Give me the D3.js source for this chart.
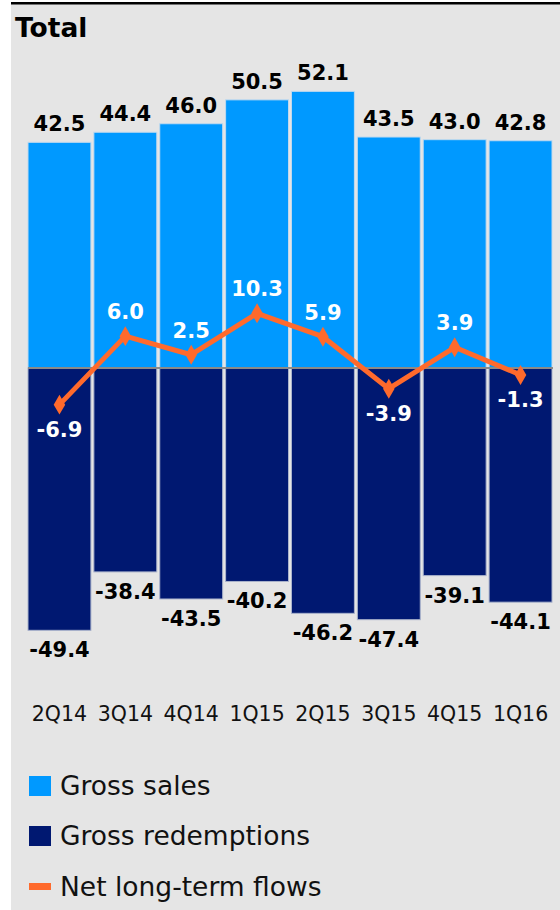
<!DOCTYPE html>
<html>
<head>
<meta charset="utf-8">
<script src="https://cdn.jsdelivr.net/npm/d3@7/dist/d3.min.js"></script>
<style>
  html, body { margin: 0; padding: 0; background: #ffffff; }
  svg { display: block; }
  text { font-family: "DejaVu Sans", Verdana, sans-serif; }
</style>
</head>
<body>
<div id="chart"></div>
<script>
// Quarterly fund flows (bn)
const quarters = ["2Q14", "3Q14", "4Q14", "1Q15", "2Q15", "3Q15", "4Q15", "1Q16"];
const grossSales = [42.5, 44.4, 46.0, 50.5, 52.1, 43.5, 43.0, 42.8];
const grossRedemptions = [-49.4, -38.4, -43.5, -40.2, -46.2, -47.4, -39.1, -44.1];
const netFlows = [-6.9, 6.0, 2.5, 10.3, 5.9, -3.9, 3.9, -1.3];
const legendItems = ["Gross sales", "Gross redemptions", "Net long-term flows"];

const W = 560, H = 910;
const colors = { sales: "#0099ff", redemptions: "#001871", net: "#ff6a2c" };

const svg = d3.select("#chart").append("svg")
  .attr("width", W).attr("height", H);

// panel background and top rule
svg.append("rect").attr("x", 11).attr("y", 3).attr("width", W - 11).attr("height", H - 3)
  .attr("fill", "#e5e5e5");
svg.append("rect").attr("x", 11).attr("y", 2).attr("width", W - 11).attr("height", 2.5)
  .attr("fill", "#000");

svg.append("text").attr("x", 15).attr("y", 37)
  .attr("font-size", 26.5).attr("font-weight", "bold").attr("fill", "#000")
  .text("Total");

const x = d3.scaleBand().domain(quarters).range([28, 552])
  .paddingInner(0.045).paddingOuter(0);
const y = d3.scaleLinear().domain([-50, 55]).range([368 + 50 * 5.31, 368 - 55 * 5.31]);

const cx = q => x(q) + x.bandwidth() / 2;

// sales bars
svg.append("g").selectAll("rect").data(quarters).join("rect")
  .attr("x", q => x(q)).attr("width", x.bandwidth())
  .attr("y", (q, i) => y(grossSales[i]))
  .attr("height", (q, i) => y(0) - y(grossSales[i]))
  .attr("fill", colors.sales)
  .attr("stroke", "#bfd9ee").attr("stroke-width", 1);

// redemption bars
svg.append("g").selectAll("rect").data(quarters).join("rect")
  .attr("x", q => x(q)).attr("width", x.bandwidth())
  .attr("y", y(0))
  .attr("height", (q, i) => y(grossRedemptions[i]) - y(0))
  .attr("fill", colors.redemptions)
  .attr("stroke", "#aab3cc").attr("stroke-width", 1);

// zero line
svg.append("line")
  .attr("x1", x.range()[0]).attr("x2", x.range()[1] + 1)
  .attr("y1", y(0)).attr("y2", y(0))
  .attr("stroke", "#8a8a8a").attr("stroke-width", 2);

// value labels
const bold = { size: 21, weight: "bold" };
svg.append("g").selectAll("text").data(quarters).join("text")
  .attr("x", cx).attr("y", (q, i) => y(grossSales[i]) - 11)
  .attr("text-anchor", "middle").attr("font-size", bold.size).attr("font-weight", bold.weight)
  .attr("fill", "#000")
  .text((q, i) => grossSales[i].toFixed(1));

svg.append("g").selectAll("text").data(quarters).join("text")
  .attr("x", cx).attr("y", (q, i) => y(grossRedemptions[i]) + 27)
  .attr("text-anchor", "middle").attr("font-size", bold.size).attr("font-weight", bold.weight)
  .attr("fill", "#000")
  .text((q, i) => grossRedemptions[i].toFixed(1));

// net flow line with diamond markers
const line = d3.line().x((d, i) => cx(quarters[i])).y(d => y(d));
svg.append("path").datum(netFlows)
  .attr("d", line).attr("fill", "none")
  .attr("stroke", colors.net).attr("stroke-width", 5).attr("stroke-linejoin", "round");

svg.append("g").selectAll("path").data(netFlows).join("path")
  .attr("transform", (d, i) => `translate(${cx(quarters[i])},${y(d)})`)
  .attr("d", d3.symbol().type(d3.symbolDiamond).size(115))
  .attr("fill", colors.net);

svg.append("g").selectAll("text").data(netFlows).join("text")
  .attr("x", (d, i) => cx(quarters[i]))
  .attr("y", d => d >= 0 ? y(d) - 17 : y(d) + 32)
  .attr("text-anchor", "middle").attr("font-size", bold.size).attr("font-weight", bold.weight)
  .attr("fill", "#fff")
  .text(d => d.toFixed(1));

// category axis labels
const xAxis = d3.axisBottom(x).tickSize(0).tickPadding(0);
const axG = svg.append("g").attr("transform", "translate(0,706)").call(xAxis);
axG.select(".domain").remove();
axG.selectAll("text")
  .attr("font-family", "DejaVu Sans, Verdana, sans-serif")
  .attr("font-size", 20.5).attr("fill", "#111").attr("dy", null).attr("y", 15);

// legend
const legend = svg.append("g");
const legendBaselines = [795, 845, 896];
legendItems.forEach((label, i) => {
  const base = legendBaselines[i];
  if (i < 2) {
    legend.append("rect").attr("x", 29).attr("y", base - 19).attr("width", 22).attr("height", 20)
      .attr("fill", i === 0 ? colors.sales : colors.redemptions);
  } else {
    legend.append("rect").attr("x", 29).attr("y", base - 13).attr("width", 22).attr("height", 7)
      .attr("fill", colors.net);
  }
  legend.append("text").attr("x", 60).attr("y", base)
    .attr("font-size", 26.5).attr("fill", "#111").text(label);
});
</script>
</body>
</html>
